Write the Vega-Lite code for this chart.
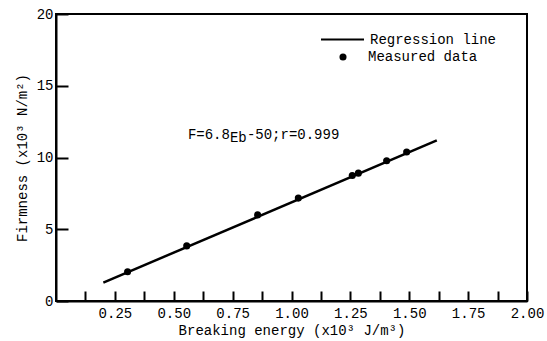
{
  "$schema": "https://vega.github.io/schema/vega-lite/v6.json",
  "width": 471,
  "height": 287,
  "autosize": {"type": "none"},
  "padding": {"left": 56, "top": 14, "right": 20, "bottom": 40},
  "background": "white",
  "config": {
    "font": "Liberation Mono",
    "view": {"stroke": "black", "strokeWidth": 2},
    "axis": {
      "domainColor": "black", "domainWidth": 2,
      "tickColor": "black", "tickWidth": 2,
      "labelColor": "black", "titleColor": "black",
      "labelFont": "Liberation Mono", "titleFont": "Liberation Mono",
      "labelFontSize": 14, "titleFontSize": 14, "titleFontWeight": "normal",
      "grid": false
    },
    "legend": {"labelFont": "Liberation Mono", "labelFontSize": 14, "labelColor": "black", "padding": 0}
  },
  "datasets": {
    "regression": [
      {"energy": 0.201, "firmness": 1.28, "series": "Regression line"},
      {"energy": 1.617, "firmness": 11.19, "series": "Regression line"}
    ],
    "measured": [
      {"energy": 0.304, "firmness": 2.04, "series": "Measured data"},
      {"energy": 0.555, "firmness": 3.84, "series": "Measured data"},
      {"energy": 0.856, "firmness": 6.0, "series": "Measured data"},
      {"energy": 1.029, "firmness": 7.17, "series": "Measured data"},
      {"energy": 1.258, "firmness": 8.74, "series": "Measured data"},
      {"energy": 1.284, "firmness": 8.91, "series": "Measured data"},
      {"energy": 1.404, "firmness": 9.77, "series": "Measured data"},
      {"energy": 1.489, "firmness": 10.38, "series": "Measured data"}
    ]
  },
  "layer": [
    {
      "data": {"name": "regression"},
      "mark": {"type": "line", "strokeWidth": 2.5},
      "encoding": {
        "x": {
          "field": "energy", "type": "quantitative",
          "scale": {"domain": [0, 2], "nice": false, "zero": false},
          "axis": {
            "title": "Breaking energy (x10³ J/m³)",
            "values": [0.125, 0.25, 0.375, 0.5, 0.625, 0.75, 0.875, 1, 1.125, 1.25, 1.375, 1.5, 1.625, 1.75, 1.875, 2],
            "tickCount": 40,
            "format": ".2f",
            "labelExpr": "abs(datum.value * 4 - round(datum.value * 4)) < 0.001 ? datum.label : ''",
            "tickSize": -10,
            "labelPadding": 15,
            "titlePadding": 3,
            "labelFlush": false,
            "labelOverlap": false
          }
        },
        "y": {
          "field": "firmness", "type": "quantitative",
          "scale": {"domain": [0, 20], "nice": false},
          "axis": {
            "title": "Firmness (x10³ N/m²)",
            "values": [0, 5, 10, 15, 20],
            "tickCount": 10,
            "format": "d",
            "tickSize": -12,
            "labelPadding": 15,
            "titlePadding": 7,
            "labelFlush": false,
            "labelOverlap": false
          }
        },
        "color": {
          "field": "series", "type": "nominal",
          "scale": {"range": ["black"]},
          "legend": {
            "title": null, "orient": "none", "legendX": 264, "legendY": 3,
            "symbolType": "stroke", "symbolSize": 1849, "symbolStrokeWidth": 2,
            "symbolStrokeColor": "black", "labelOffset": 5
          }
        }
      }
    },
    {
      "data": {"name": "measured"},
      "mark": {"type": "point", "filled": true, "color": "black", "opacity": 1, "size": 50},
      "encoding": {
        "x": {"field": "energy", "type": "quantitative"},
        "y": {"field": "firmness", "type": "quantitative"},
        "shape": {
          "field": "series", "type": "nominal",
          "scale": {"range": ["circle"]},
          "legend": {
            "title": null, "orient": "none", "legendX": 280, "legendY": 36,
            "symbolSize": 50, "symbolFillColor": "black", "symbolStrokeColor": "black",
            "labelOffset": 18
          }
        }
      }
    },
    {
      "data": {"values": [{"t": "F=6.8"}]},
      "mark": {"type": "text", "align": "left", "baseline": "middle", "fontSize": 14, "font": "Liberation Mono", "color": "black"},
      "encoding": {"x": {"datum": 0.56, "type": "quantitative"}, "y": {"datum": 11.6, "type": "quantitative"}, "text": {"field": "t"}}
    },
    {
      "data": {"values": [{"t": "Eb"}]},
      "mark": {"type": "text", "align": "left", "baseline": "middle", "fontSize": 14, "font": "Liberation Mono", "color": "black", "dx": 42, "dy": 3},
      "encoding": {"x": {"datum": 0.56, "type": "quantitative"}, "y": {"datum": 11.6, "type": "quantitative"}, "text": {"field": "t"}}
    },
    {
      "data": {"values": [{"t": "-50;r=0.999"}]},
      "mark": {"type": "text", "align": "left", "baseline": "middle", "fontSize": 14, "font": "Liberation Mono", "color": "black", "dx": 59},
      "encoding": {"x": {"datum": 0.56, "type": "quantitative"}, "y": {"datum": 11.6, "type": "quantitative"}, "text": {"field": "t"}}
    }
  ]
}
